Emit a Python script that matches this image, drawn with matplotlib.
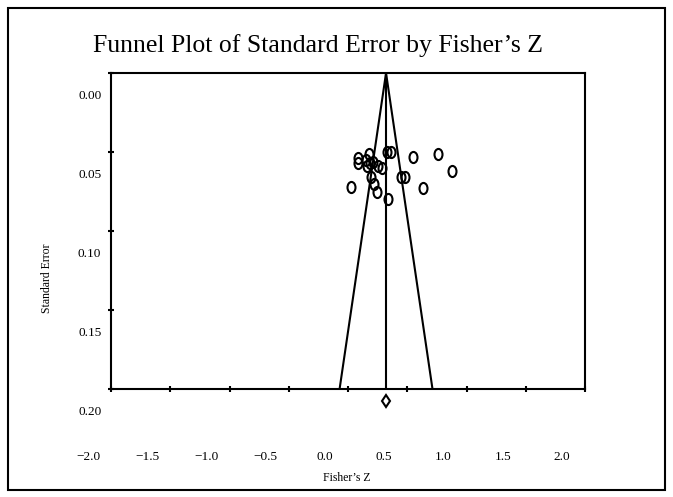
import matplotlib
matplotlib.use("Agg")
import matplotlib.pyplot as plt
import numpy as np
from matplotlib.path import Path
from matplotlib.transforms import ScaledTranslation, Affine2D
from matplotlib.patches import Rectangle

plt.rcParams['font.family'] = ['Liberation Serif', 'DejaVu Serif']

# studies: Fisher's Z and standard error
fisher_z = [0.025, 0.082, 0.087, 0.152, 0.160, 0.180, 0.188, 0.194, 0.211, 0.217,
            0.245, 0.256, 0.284, 0.329, 0.363, 0.340, 0.447, 0.481, 0.546, 0.630,
            0.757, 0.878]
std_err = [0.0723, 0.0540, 0.0570, 0.0550, 0.0590, 0.0510, 0.0570, 0.0660, 0.0563, 0.0700,
           0.0750, 0.0590, 0.0600, 0.0500, 0.0500, 0.0800, 0.0660, 0.0660, 0.0530, 0.0730,
           0.0510, 0.0620]
summary_z = 0.321
summary_y = 0.2076  # diamond drawn just under the frame
se_max = 0.2

x_ticks = [-2.0, -1.5, -1.0, -0.5, 0.0, 0.5, 1.0, 1.5, 2.0]
y_ticks = [0.00, 0.05, 0.10, 0.15, 0.20]

fig = plt.figure(figsize=(6.73, 4.97), dpi=100)
ax = fig.add_axes([111/673, 1-389/497, 474/673, 316/497])

# funnel
ax.plot([summary_z, summary_z], [0, se_max], color='black', lw=1.5)
ax.plot([summary_z - 1.96*se_max, summary_z, summary_z + 1.96*se_max],
        [se_max, 0, se_max], color='black', lw=1.5)

# tall open ellipse marker
circ = Path.unit_circle()
ell = Path(Affine2D().scale(0.72, 1.0).transform(circ.vertices), circ.codes)
ax.plot(fisher_z, std_err, ls='none', marker=ell, markersize=8,
        markerfacecolor='none', markeredgecolor='black', markeredgewidth=1.5)

ax.plot([summary_z], [summary_y], ls='none', marker='d', markersize=6.5,
        markerfacecolor='none', markeredgecolor='black', markeredgewidth=1.5,
        clip_on=False)

ax.set_xlim(-2, 2)
ax.set_ylim(se_max, 0)
ax.set_xticks(x_ticks)
ax.set_xticklabels([f"{v:.1f}".replace('-', '\u2212') for v in x_ticks])
ax.set_yticks(y_ticks)
ax.set_yticklabels([f"{v:.2f}" for v in y_ticks])

for s in ax.spines.values():
    s.set_linewidth(1.5)
ax.tick_params(axis='both', direction='inout', length=4, width=1.5, labelsize=9.5)
ax.tick_params(axis='x', pad=43)
ax.tick_params(axis='y', pad=5)

# labels sit offset from their ticks as in the original export
for lab in ax.get_xticklabels():
    lab.set_transform(lab.get_transform() + ScaledTranslation(-23/100, 0, fig.dpi_scale_trans))
for lab in ax.get_yticklabels():
    lab.set_transform(lab.get_transform() + ScaledTranslation(0, -21/100, fig.dpi_scale_trans))

fig.text(93/673, 1-46/497, "Funnel Plot of Standard Error by Fisher\u2019s Z",
         ha='left', va='center', fontsize=18.5)
fig.text(347/673, 1-478/497, "Fisher\u2019s Z", ha='center', va='center', fontsize=8.5)
fig.text(47/673, 1-278/497, "Standard Error", ha='center', va='center',
         rotation=90, fontsize=8.5)

fig.patches.append(Rectangle((8/673, 1-490/497), 657/673, 482/497,
                             transform=fig.transFigure, fill=False,
                             edgecolor='black', lw=1.5))

fig.savefig("out.png", dpi=100)
